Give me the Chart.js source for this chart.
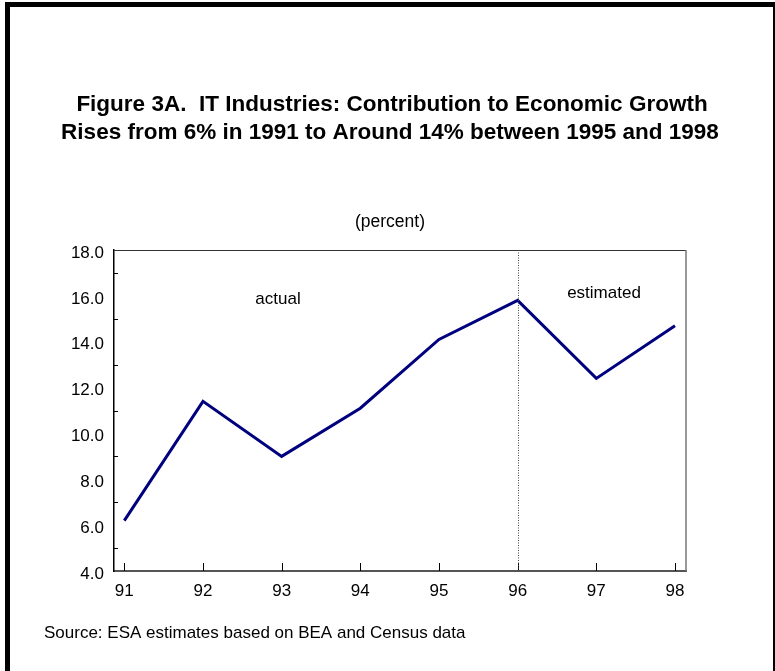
<!DOCTYPE html>
<html>
<head>
<meta charset="utf-8">
<title>Figure 3A</title>
<script src="https://cdn.jsdelivr.net/npm/chart.js@4.4.1/dist/chart.umd.min.js"></script>
<style>
  html, body { margin:0; padding:0; background:#fff; overflow:hidden; }
  #frame { position:absolute; left:5px; top:2px; width:763px; height:720px; border:5px solid #000; }
  #myChart { position:absolute; left:0; top:0; }
</style>
</head>
<body>
<div id="frame"></div>
<canvas id="myChart" width="775" height="671"></canvas>
<script>
// data
const years = [91, 92, 93, 94, 95, 96, 97, 98];
const tickLabels = ['91', '92', '93', '94', '95', '96', '97', '98'];
const contribution = [6.2, 11.4, 9.0, 11.1, 14.1, 15.8, 12.4, 14.7];
const splitYear = 96;

const titleLines = [
  'Figure 3A.  IT Industries: Contribution to Economic Growth',
  'Rises from 6% in 1991 to Around 14% between 1995 and 1998'
];

const FONT = '"Liberation Sans", Arial, sans-serif';

// texts, inward ticks, top/right frame and the dotted split line
const extras = {
  id: 'extras',
  afterDraw(chart){
    const ctx = chart.ctx;
    const xs = chart.scales.x, ys = chart.scales.y;
    const a = chart.chartArea;
    ctx.save();

    // top + right frame
    ctx.strokeStyle = '#333';
    ctx.lineWidth = 1;
    ctx.beginPath();
    ctx.moveTo(a.left, a.top + 0.5);
    ctx.lineTo(a.right, a.top + 0.5);
    ctx.stroke();
    ctx.strokeStyle = '#777';
    ctx.lineWidth = 1.5;
    ctx.beginPath();
    ctx.moveTo(a.right, a.top);
    ctx.lineTo(a.right, a.bottom);
    ctx.stroke();

    // ticks pointing into the plot
    ctx.strokeStyle = '#000';
    ctx.lineWidth = 1;
    years.forEach(v => {
      const px = Math.round(xs.getPixelForValue(v)) + 0.5;
      ctx.beginPath();
      ctx.moveTo(px, a.bottom);
      ctx.lineTo(px, a.bottom - 8);
      ctx.stroke();
    });
    for (let v = 5; v < 18; v += 2) {
      const py = Math.round(ys.getPixelForValue(v)) + 0.5;
      ctx.beginPath();
      ctx.moveTo(a.left, py);
      ctx.lineTo(a.left + 4, py);
      ctx.stroke();
    }

    // dotted line actual / estimated
    const sx = Math.round(xs.getPixelForValue(splitYear)) + 0.5;
    ctx.strokeStyle = '#444';
    ctx.setLineDash([1, 1.5]);
    ctx.beginPath();
    ctx.moveTo(sx, a.top);
    ctx.lineTo(sx, a.bottom);
    ctx.stroke();
    ctx.setLineDash([]);

    // texts
    ctx.fillStyle = '#000';
    ctx.textAlign = 'center';
    ctx.textBaseline = 'alphabetic';
    ctx.font = 'bold 22.5px ' + FONT;
    ctx.fillText(titleLines[0], 392, 111);
    ctx.fillText(titleLines[1], 390, 139);

    ctx.font = '17.5px ' + FONT;
    ctx.fillText('(percent)', 390, 227);

    ctx.font = '17px ' + FONT;
    ctx.fillText('actual', 278, 304);
    ctx.fillText('estimated', 604, 298);

    ctx.textAlign = 'left';
    ctx.font = '17px ' + FONT;
    ctx.fillText('Source: ESA estimates based on BEA and Census data', 44, 638);
    ctx.restore();
  }
};

const chartEl = document.getElementById('myChart');

const myChart = new Chart(chartEl, {
  type: 'line',
  data: {
    datasets: [{
      label: 'IT contribution',
      data: years.map((y, i) => ({x: y, y: contribution[i]})),
      borderColor: '#00007f',
      borderWidth: 3,
      pointRadius: 0,
      tension: 0,
      fill: false
    }]
  },
  options: {
    responsive: false,
    animation: false,
    layout: { padding: { left: 0, top: 250, right: 89, bottom: 0 } },
    plugins: {
      legend: { display: false },
      tooltip: { enabled: false },
      title: { display: false }
    },
    scales: {
      x: {
        type: 'linear',
        min: 90.869,
        max: 98.14,
        afterBuildTicks: s => { s.ticks = years.map(v => ({value: v})); },
        afterFit: s => { s.height = 100; },
        grid: { drawOnChartArea: false, drawTicks: false },
        border: { color: '#555', width: 2 },
        ticks: {
          padding: 10,
          color: '#000',
          font: { family: FONT, size: 17 },
          callback: (v) => tickLabels[years.indexOf(v)]
        }
      },
      y: {
        min: 4,
        max: 18,
        afterFit: s => { s.width = 114; },
        grid: { drawOnChartArea: false, drawTicks: false },
        border: { color: '#000', width: 1.5 },
        ticks: {
          stepSize: 2,
          padding: 10,
          labelOffset: 3,
          color: '#000',
          font: { family: FONT, size: 17 },
          callback: v => v.toFixed(1)
        }
      }
    }
  },
  plugins: [extras]
});
</script>
</body>
</html>
